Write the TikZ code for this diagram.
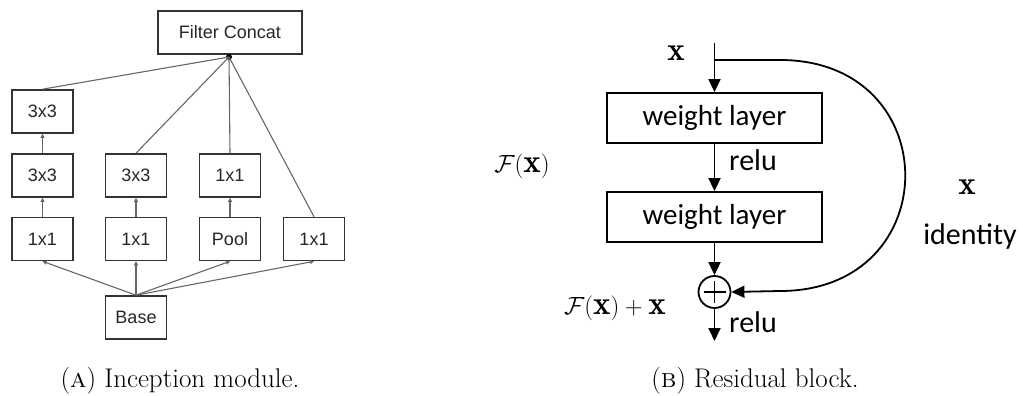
\documentclass[tikz,border=0pt]{standalone}
\usepackage{fontspec}
\newfontfamily\arialf{Liberation Sans}
\newfontfamily\calf{Carlito}
\usetikzlibrary{arrows.meta}
\begin{document}
\begin{tikzpicture}[x=1pt,y=-1pt,
  ibox/.style={draw=black!80,line width=1.6pt,minimum width=61pt,minimum height=43pt,inner sep=0pt,font=\arialf\fontsize{18}{20}\selectfont,text=black!85},
  iline/.style={draw=black!60,line width=1.1pt},
  iarr/.style={iline,-{Triangle[length=4pt,width=4pt]}},
  wbox/.style={draw=black,line width=1.8pt,minimum width=215pt,minimum height=50pt,inner sep=0pt,font=\calf\fontsize{29}{32}\selectfont},
  rline/.style={draw=black,line width=1.8pt},
  rarr/.style={rline,-{Triangle[length=13pt,width=12pt]}},
  ctext/.style={font=\calf\fontsize{30}{33}\selectfont,inner sep=0pt},
  mtext/.style={font=\fontsize{33}{36}\selectfont,inner sep=0pt},
  captext/.style={font=\fontsize{27}{32}\selectfont,inner sep=0pt,anchor=base}
]
\useasboundingbox (0,0) rectangle (1023,396);
% ---------- (A) Inception module ----------
\node[ibox,minimum width=144pt] (concat) at (230,32.5) {Filter Concat};
\node[ibox] (t1) at (42.5,111.5) {3x3};
\node[ibox] (r2a) at (42.5,175.5) {3x3};
\node[ibox] (r2b) at (136,175.5) {3x3};
\node[ibox] (r2c) at (230,175.5) {1x1};
\node[ibox] (r3a) at (42.5,239) {1x1};
\node[ibox] (r3b) at (136,239) {1x1};
\node[ibox] (r3c) at (230,239) {Pool};
\node[ibox] (r3d) at (314,239) {1x1};
\node[ibox] (base) at (136,317.5) {Base};
\coordinate (cp) at (229,57);
\fill[black] (cp) circle (3pt);
\draw[iline] (cp) -- (t1.north);
\draw[iline] (cp) -- (r2b.north);
\draw[iline] (cp) -- (r2c.north);
\draw[iline] (cp) -- (r3d.north);
\draw[iarr] (r2a.north) -- (t1.south);
\draw[iarr] (r3a.north) -- (r2a.south);
\draw[iarr] (r3b.north) -- (r2b.south);
\draw[iarr] (r3c.north) -- (r2c.south);
\draw[iarr] (base.north) -- (r3a.south);
\draw[iarr] (base.north) -- (r3b.south);
\draw[iarr] (base.north) -- (r3c.south);
\draw[iarr] (base.north) -- (r3d.south);
\node[captext] (capa) at (180,387) {(\textsc{a}) Inception module.};
% ---------- (B) Residual block ----------
\node[mtext] (xin) at (676,53) {$\mathbf{x}$};
\coordinate (top) at (714.5,43);
\coordinate (split) at (714.5,60);
\node[wbox] (w1) at (714.5,118) {weight layer};
\node[wbox] (w2) at (714.5,217) {weight layer};
\node[draw,circle,line width=1.8pt,minimum size=32pt,inner sep=0pt] (plus) at (714.5,292) {};
\draw[line width=1.8pt] ([yshift=-11pt]plus.center) -- ([yshift=11pt]plus.center)
  ([xshift=-11pt]plus.center) -- ([xshift=11pt]plus.center);
\coordinate (out) at (714.5,341);
\node[ctext,anchor=west] (relu1) at (729,160) {relu};
\node[ctext,anchor=west] (relu2) at (729,322) {relu};
\node[mtext] (fx) at (522,166) {$\mathcal{F}(\mathbf{x})$};
\node[mtext,anchor=base east] (fxx) at (666,314) {$\mathcal{F}(\mathbf{x})+\mathbf{x}$};
\node[mtext] (xid) at (967,187) {$\mathbf{x}$};
\node[ctext] (ident) at (970,236) {identity};
\draw[rarr] (top) -- (w1.north);
\draw[rarr] (w1.south) -- (w2.north);
\draw[rarr] (w2.south) -- (plus.north);
\draw[rarr] (plus.south) -- (out);
\draw[rarr] (split) -- (780,60) .. controls (947,60) and (947,291) .. (780,291) -- (plus.east);
\node[captext] (capb) at (755,387) {(\textsc{b}) Residual block.};
\end{tikzpicture}
\end{document}
